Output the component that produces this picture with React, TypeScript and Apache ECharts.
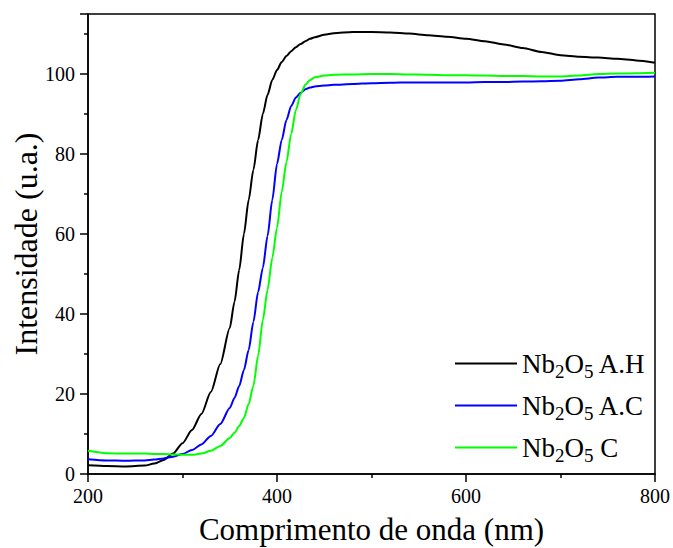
import React, { useEffect, useRef } from "react";
import * as echarts from "echarts";

const wavelengths = [200, 220, 240, 260, 270, 280, 290, 300, 310, 320, 330, 340, 350, 355, 360, 365, 370, 375, 380, 385, 390, 395, 400, 405, 410, 415, 420, 425, 430, 435, 440, 450, 460, 480, 500, 520, 540, 560, 580, 600, 620, 640, 660, 680, 700, 720, 740, 760, 780, 800];

const seriesAH = [2.2, 2.0, 1.9, 2.1, 2.6, 3.5, 5.1, 7.7, 11, 15, 20.5, 27.5, 36.5, 43, 51, 60, 68.5, 76, 83.5, 90, 94.8, 98.5, 101, 103, 104.5, 105.7, 106.7, 107.5, 108.2, 108.8, 109.2, 109.8, 110.2, 110.5, 110.5, 110.4, 110.1, 109.7, 109.3, 108.8, 108.2, 107.4, 106.5, 105.5, 104.7, 104.3, 104.1, 103.8, 103.4, 102.8];

const seriesAC = [3.7, 3.4, 3.3, 3.4, 3.6, 3.9, 4.3, 5.0, 6.0, 7.4, 9.5, 12.5, 16.5, 19, 22, 26, 31, 38, 45.5, 51.5, 59.5, 68.5, 77.5, 83.5, 88.5, 92, 94.1, 95.3, 96.2, 96.6, 96.9, 97.1, 97.3, 97.5, 97.7, 97.8, 97.9, 97.9, 97.9, 97.9, 98.0, 98.0, 98.1, 98.2, 98.3, 98.7, 99.1, 99.3, 99.3, 99.4];

const seriesC = [5.8, 5.2, 5.1, 5.1, 5.0, 5.0, 4.9, 4.8, 4.8, 5.1, 5.8, 7.0, 9.0, 10.3, 12, 14, 17.5, 22, 29.5, 38.5, 46, 54, 61.5, 70.5, 78, 85, 91, 95, 97.3, 98.5, 99.2, 99.6, 99.8, 99.9, 100, 100, 99.9, 99.8, 99.7, 99.7, 99.6, 99.5, 99.5, 99.4, 99.4, 99.6, 100, 100.1, 100.2, 100.3];

const seriesNames = ["Nb2O5 A.H", "Nb2O5 A.C", "Nb2O5 C"];
const legendLabels = ["Nb{s|2}O{s|5} A.H", "Nb{s|2}O{s|5} A.C", "Nb{s|2}O{s|5} C"];
const seriesColors = ["#000000", "#0000ff", "#00ff00"];

const xTitle = "Comprimento de onda (nm)";
const yTitle = "Intensidade (u.a.)";

const FONT = "Liberation Serif";

export default function App() {
  const ref = useRef<HTMLDivElement>(null);
  useEffect(() => {
    if (!ref.current) return;
    const chart = echarts.init(ref.current, undefined, { renderer: "svg" });
    const allValues = [seriesAH, seriesAC, seriesC];
    const legendTops = [341, 383, 425];
    const option: any = {
      animation: false,
      backgroundColor: "#ffffff",
      textStyle: { fontFamily: FONT },
      grid: {
        left: 88,
        top: 14,
        right: 18,
        bottom: 74,
        show: true,
        borderColor: "#000",
        borderWidth: 1.5,
        containLabel: false,
        outerBoundsMode: "none",
      },
      legend: seriesNames.map((name, i) => ({
        orient: "vertical",
        left: 450,
        top: legendTops[i],
        itemWidth: 62,
        itemHeight: 14,
        icon: "path://M0,6 L62,6 L62,8 L0,8 Z",
        formatter: (n: string) => legendLabels[seriesNames.indexOf(n)],
        textStyle: {
          fontFamily: FONT,
          fontSize: 27,
          color: "#000",
          rich: {
            s: { fontFamily: FONT, fontSize: 19, color: "#000", lineHeight: 19, padding: [16, 0, 0, 0] },
          },
        },
        data: [name],
      })),
      xAxis: {
        type: "value",
        min: 200,
        max: 800,
        interval: 200,
        name: xTitle,
        nameLocation: "middle",
        nameGap: 40,
        nameMoveOverlap: false,
        nameTextStyle: { fontFamily: FONT, fontSize: 31, color: "#000" },
        axisLine: { show: true, onZero: false, lineStyle: { color: "#000", width: 1.5 } },
        axisTick: { show: true, inside: false, length: 8, lineStyle: { color: "#000", width: 1.5 } },
        minorTick: { show: true, splitNumber: 2, length: 4, lineStyle: { color: "#000", width: 1.5 } },
        axisLabel: { fontFamily: FONT, fontSize: 20, color: "#000", margin: 12 },
        splitLine: { show: false },
      },
      yAxis: {
        type: "value",
        min: 0,
        max: 115,
        interval: 20,
        name: yTitle,
        nameLocation: "middle",
        nameGap: 46,
        nameMoveOverlap: false,
        nameTextStyle: { fontFamily: FONT, fontSize: 32, color: "#000" },
        axisLine: { show: true, onZero: false, lineStyle: { color: "#000", width: 1.5 } },
        axisTick: { show: true, inside: false, length: 8, lineStyle: { color: "#000", width: 1.5 } },
        minorTick: { show: true, splitNumber: 2, length: 4, lineStyle: { color: "#000", width: 1.5 } },
        axisLabel: { fontFamily: FONT, fontSize: 20, color: "#000", margin: 13, showMaxLabel: false },
        splitLine: { show: false },
      },
      series: seriesNames.map((name, i) => ({
        name,
        type: "line",
        showSymbol: false,
        symbol: "none",
        smooth: 0.25,
        smoothMonotone: "x",
        color: seriesColors[i],
        lineStyle: { color: seriesColors[i], width: 2 },
        data: wavelengths.map((w, j) => [w, allValues[i][j]]),
      })),
    };
    chart.setOption(option);
    return () => chart.dispose();
  }, []);
  return (
    <div
      ref={ref}
      style={{ position: "fixed", left: 0, top: 0, width: 673, height: 548, background: "#fff" }}
    />
  );
}
